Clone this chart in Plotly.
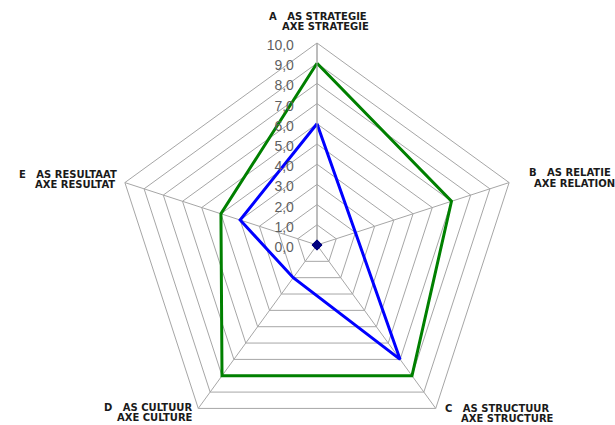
import plotly.graph_objects as go

W, H = 615, 470  # figure slightly taller than the window so the chart centre sits where it does in the reference

categories = ["A", "B", "C", "D", "E"]
green_values = [9, 7, 8, 8, 5]
blue_values = [6, 2, 7, 2, 4]
zero_values = [0, 0, 0, 0, 0]

label_line1 = ["A\u00a0\u00a0\u00a0AS STRATEGIE", "B\u00a0\u00a0\u00a0AS RELATIE", "C\u00a0\u00a0\u00a0AS STRUCTUUR",
               "D\u00a0\u00a0\u00a0AS CULTUUR", "E\u00a0\u00a0\u00a0AS RESULTAAT"]
label_line2 = ["AXE STRATEGIE", "AXE RELATION", "AXE STRUCTURE", "AXE CULTURE", "AXE RESULTAT"]

line1_pos = [(267, 16), (527, 173), (443, 408.5), (102, 407), (17, 174)]
line2_pos = [(280, 26.5), (532, 183), (459, 418), (115, 417), (33, 184)]


def closed(vals):
    return vals + vals[:1]


cats_c = closed(categories)

fig = go.Figure()
fig.add_trace(go.Scatterpolar(r=closed(green_values), theta=cats_c, mode="lines",
                              line=dict(color="#008000", width=3), showlegend=False))
fig.add_trace(go.Scatterpolar(r=closed(blue_values), theta=cats_c, mode="lines",
                              line=dict(color="#0000FF", width=3), showlegend=False))
# the all-zero series sits on an overlaid (invisible, circular) polar subplot so its centre marker is kept
fig.add_trace(go.Scatterpolar(r=closed(zero_values), theta=cats_c, mode="lines+markers",
                              subplot="polar2",
                              line=dict(color="#000080", width=2),
                              marker=dict(symbol="diamond", size=8, color="#000080"),
                              showlegend=False))

annotations = []
for t, (x, y) in zip(label_line1 + label_line2, line1_pos + line2_pos):
    annotations.append(dict(text="<b>" + t + "</b>", x=x / W, y=1 - y / H, xref="paper", yref="paper",
                            xanchor="left", yanchor="middle", showarrow=False,
                            font=dict(family="DejaVu Sans", size=10, color="#1a1a1a")))

domain = dict(x=[115 / W, 519 / W], y=[1 - 447 / H, 1 - 43 / H])

fig.update_layout(
    width=W, height=H,
    margin=dict(l=0, r=0, t=0, b=0),
    paper_bgcolor="white",
    separators=", ",
    polar=dict(
        domain=domain,
        bgcolor="white",
        gridshape="linear",
        angularaxis=dict(rotation=90, direction="clockwise", categoryorder="array",
                         categoryarray=categories,
                         showticklabels=False, ticks="",
                         showline=True, linecolor="#a6a6a6", linewidth=1,
                         showgrid=True, gridcolor="#a6a6a6", gridwidth=1),
        radialaxis=dict(range=[0, 10], dtick=1, tick0=0, tickformat=".1f",
                        angle=90, side="counterclockwise",
                        ticks="outside", ticklen=10, tickcolor="rgba(0,0,0,0)",
                        tickfont=dict(family="Liberation Sans", size=14, color="#5f5f5f"),
                        showline=True, linecolor="#a6a6a6", linewidth=1,
                        showgrid=True, gridcolor="#a6a6a6", gridwidth=1),
    ),
    polar2=dict(
        domain=domain,
        bgcolor="rgba(0,0,0,0)",
        angularaxis=dict(rotation=90, direction="clockwise", categoryorder="array",
                         categoryarray=categories, visible=False),
        radialaxis=dict(range=[0, 10], visible=False),
    ),
    annotations=annotations,
)

fig.write_html("out.html",
               post_script="document.documentElement.style.overflow='hidden';document.body.style.overflow='hidden';")
